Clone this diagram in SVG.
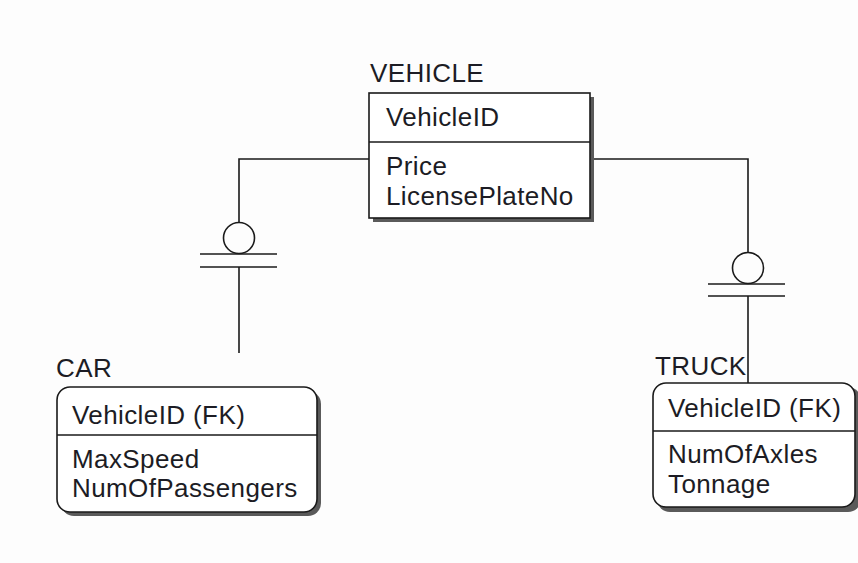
<svg xmlns="http://www.w3.org/2000/svg" width="858" height="563" viewBox="0 0 858 563">
<style>
.t{font-family:"Liberation Sans",Arial,sans-serif;font-size:26px;letter-spacing:0.4px;fill:#1c1c24}
.box{fill:#ffffff;stroke:#1a1a1a;stroke-width:1.6}
.sh{fill:#5a5a5a}
.ln{stroke:#1a1a1a;stroke-width:1.6;fill:none}
</style>
<rect width="858" height="563" fill="#fdfdfd"/>
<g id="connectors">
<path class="ln" d="M369,159 H239 V223"/>
<circle class="ln" cx="239" cy="238" r="15.5"/>
<line class="ln" x1="200" y1="254" x2="277" y2="254"/>
<line class="ln" x1="200" y1="267" x2="277" y2="267"/>
<line class="ln" x1="239" y1="267" x2="239" y2="353"/>
<path class="ln" d="M590,159 H748 V253"/>
<circle class="ln" cx="748" cy="268" r="15.5"/>
<line class="ln" x1="708" y1="284" x2="785" y2="284"/>
<line class="ln" x1="708" y1="296" x2="785" y2="296"/>
<line class="ln" x1="748" y1="296" x2="748" y2="383"/>
</g>
<g id="vehicle">
<text class="t" x="370" y="82">VEHICLE</text>
<rect class="sh" x="373" y="97" width="221" height="125"/>
<rect class="box" x="369" y="93" width="221" height="125"/>
<line class="ln" x1="369" y1="142" x2="590" y2="142"/>
<text class="t" x="386" y="126">VehicleID</text>
<text class="t" x="386" y="175">Price</text>
<text class="t" x="386" y="205">LicensePlateNo</text>
</g>
<g id="car">
<text class="t" x="56" y="377">CAR</text>
<rect class="sh" x="61" y="391" width="260" height="125" rx="13"/>
<rect class="box" x="57" y="387" width="260" height="125" rx="13"/>
<line class="ln" x1="57" y1="435" x2="317" y2="435"/>
<text class="t" x="72" y="424">VehicleID (FK)</text>
<text class="t" x="72" y="468">MaxSpeed</text>
<text class="t" x="72" y="497">NumOfPassengers</text>
</g>
<g id="truck">
<text class="t" x="655" y="375">TRUCK</text>
<rect class="sh" x="657" y="387" width="204" height="125" rx="13"/>
<rect class="box" x="653" y="383" width="202" height="124" rx="13"/>
<line class="ln" x1="653" y1="431" x2="855" y2="431"/>
<text class="t" x="668" y="417">VehicleID (FK)</text>
<text class="t" x="668" y="463">NumOfAxles</text>
<text class="t" x="668" y="493">Tonnage</text>
</g>
</svg>
